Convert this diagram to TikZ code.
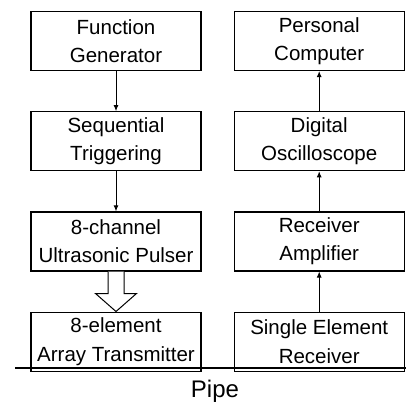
\documentclass[tikz,border=0pt]{standalone}
\usepackage{fontspec}
\setmainfont{Liberation Sans}
\usetikzlibrary{positioning, calc, arrows.meta}

\begin{document}
\begin{tikzpicture}[
    x=1pt, y=1pt,
    node distance=40pt and 32pt,
    block/.style={rectangle, draw, line width=1.2pt, align=center, minimum width=170pt, minimum height=59pt, inner sep=0pt, font=\fontsize{20.5}{28.5}\selectfont},
    arrow/.style={-{Latex[length=6pt,width=5pt]}, line width=0.9pt},
    hollow/.style={draw, line width=1pt, fill=white, line join=miter}
]
\useasboundingbox (0,0) rectangle (406,-405);

% transmit chain
\node[block] (fgen) at (116,-41) {Function\\Generator};
\node[block, below=of fgen] (trig) {Sequential\\Triggering};
\node[block, below=of trig] (pulser) {8-channel\\Ultrasonic Pulser};
\node[block, below=of pulser] (tx) {8-element\\Array Transmitter};

% receive chain
\node[block, right=of fgen] (pc) {Personal\\Computer};
\node[block, below=of pc] (scope) {Digital\\Oscilloscope};
\node[block, below=of scope] (amp) {Receiver\\Amplifier};
\node[block, below=of amp] (rx) {Single Element\\Receiver};

\draw[arrow] (fgen) -- (trig);
\draw[arrow] (trig) -- (pulser);
\draw[arrow] (rx) -- (amp);
\draw[arrow] (amp) -- (scope);
\draw[arrow] (scope) -- (pc);

% wide arrow into the array
\draw[hollow] ($(pulser.south)+(-8,0)$) -- ($(tx.north)+(-8,18)$) -- ($(tx.north)+(-20.5,18)$)
    -- (tx.north) -- ($(tx.north)+(20.5,18)$) -- ($(tx.north)+(8,18)$) -- ($(pulser.south)+(8,0)$);

% pipe wall
\coordinate (pipeL) at (15,-368);
\coordinate (pipeR) at (406,-368);
\draw[line width=2pt] (pipeL) -- (pipeR);
\node[font=\fontsize{24}{28}\selectfont] (pipe) at (215,-391) {Pipe};
\end{tikzpicture}
\end{document}
